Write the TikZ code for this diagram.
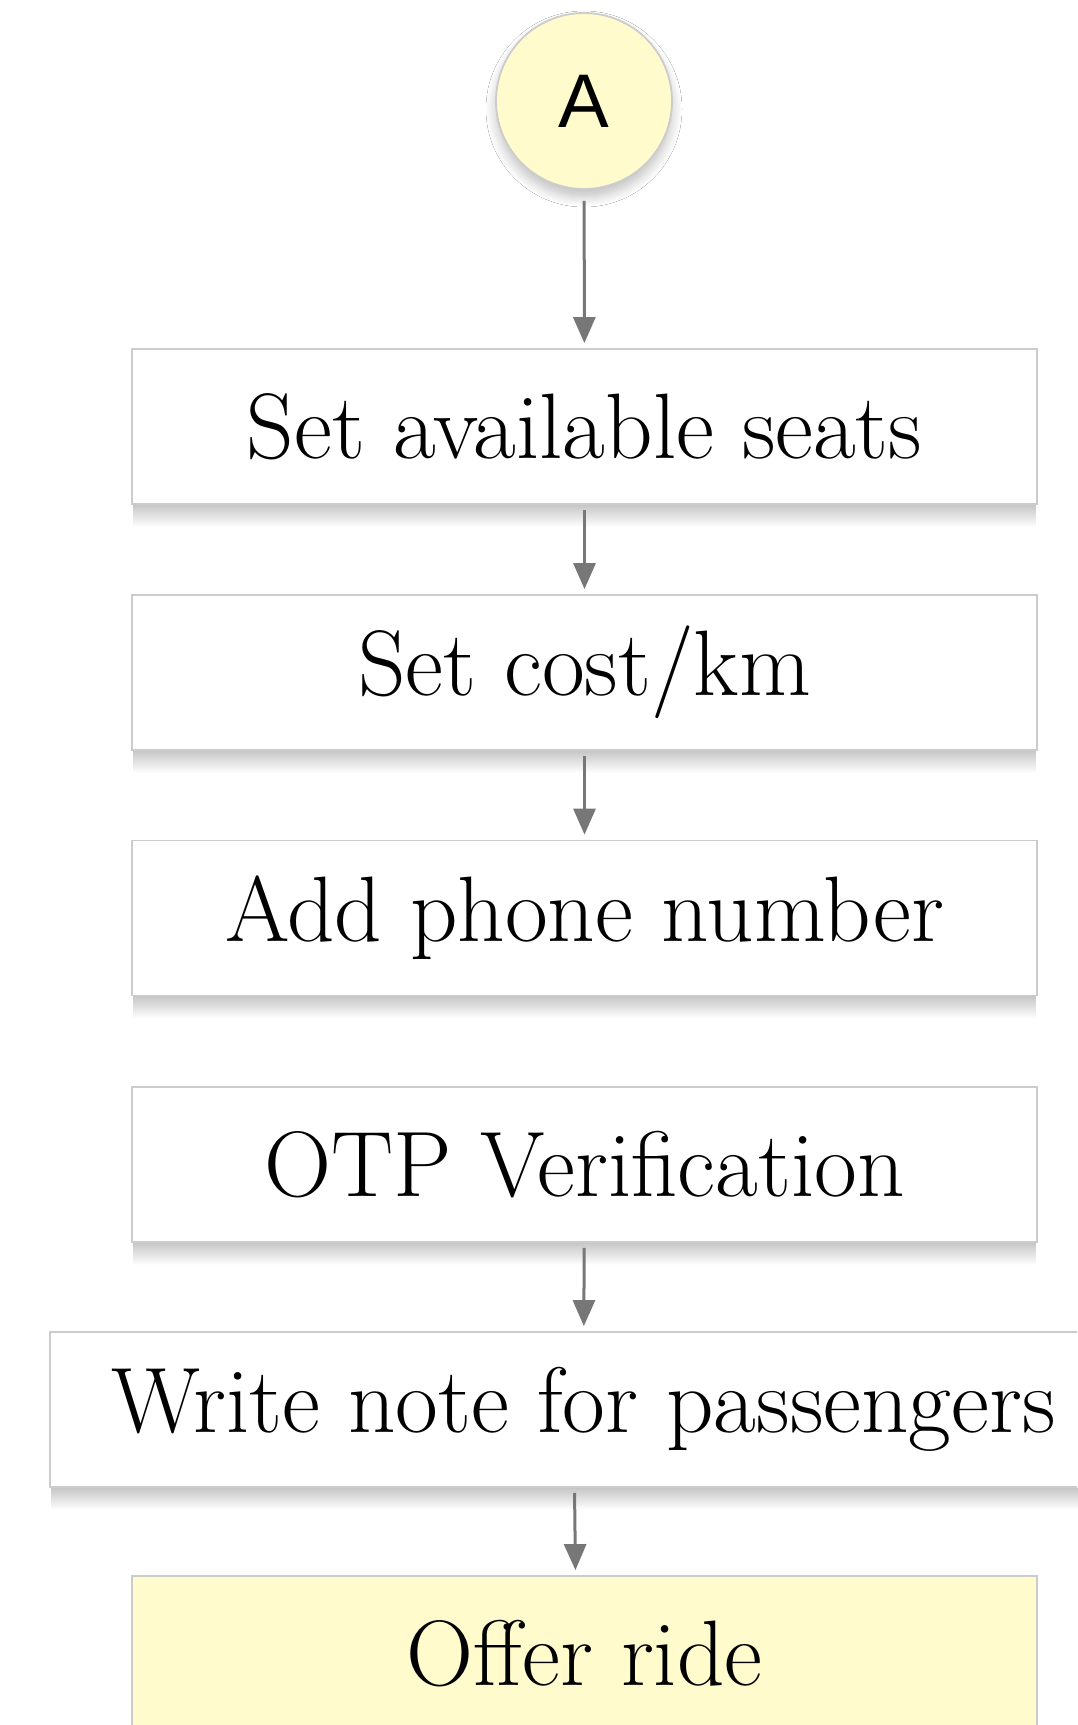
\documentclass[tikz,border=0pt]{standalone}
\usepackage{fontspec}
\newfontfamily\circfont{Liberation Sans}
\usetikzlibrary{arrows.meta,shadows.blur,backgrounds,fadings}
\definecolor{boxborder}{HTML}{CCCCCC}
\definecolor{arrowgray}{HTML}{777777}
\definecolor{lemon}{HTML}{FFFBCC}
\tikzset{
  stepbox/.style={draw=boxborder, line width=0.9pt, fill=white, rectangle,
    minimum width=452.5pt, minimum height=77.5pt, inner sep=0pt,
    font=\fontsize{46.5}{54}\selectfont},
  finalbox/.style={stepbox, fill=lemon},
  boxshadow/.style={fill=black, opacity=0.22, path fading=south},
  conn/.style={draw=arrowgray, line width=1.5pt, -{Triangle[length=13pt,width=11pt]}, shorten >=2.5pt, shorten <=2.5pt},
  startcirc/.style={circle, draw=boxborder, line width=0.9pt, fill=lemon, minimum size=88pt, inner sep=0pt,
    font=\circfont\fontsize{38}{44}\selectfont,
    blur shadow={shadow xshift=0pt, shadow yshift=-4pt, shadow blur steps=10, shadow opacity=25, shadow blur radius=5pt}}
}
\begin{document}
\begin{tikzpicture}[x=0.5pt,y=-0.5pt]
\useasboundingbox (0,0) rectangle (1077,1725);
\clip (0,0) rectangle (1077,1725);
\node[startcirc] (a) at (584,101) {A};
\node[stepbox] (b1) at (584.5,426.5) {Set available seats};
\node[stepbox] (b2) at (584.5,672.5) {Set cost/km};
\node[stepbox] (b3) at (584.5,918) {Add phone number};
\node[stepbox] (b4) at (584.5,1164.5) {OTP Verification};
\node[stepbox, minimum width=533.5pt] (b5) at (583.5,1409.5) {Write note for passengers};
\node[finalbox] (b6) at (584.5,1653.5) {Offer ride};
\begin{scope}[on background layer]
\fill[white] (0,0) rectangle (1077,1725);
\foreach \b in {b1,b2,b3,b4,b5,b6}{
  \fill[boxshadow] ([xshift=1pt]\b.south west) rectangle ([xshift=-1pt,yshift=-11pt]\b.south east);
}
\end{scope}
\draw[conn, shorten <=5.5pt] (a) -- (b1);
\draw[conn] (b1) -- (b2);
\draw[conn] (b2) -- (b3);
\draw[conn] (b4) -- (b5);
\draw[conn] ([xshift=-4.5pt]b5.south) -- ([xshift=-4.5pt]b6.north);
\end{tikzpicture}
\end{document}
